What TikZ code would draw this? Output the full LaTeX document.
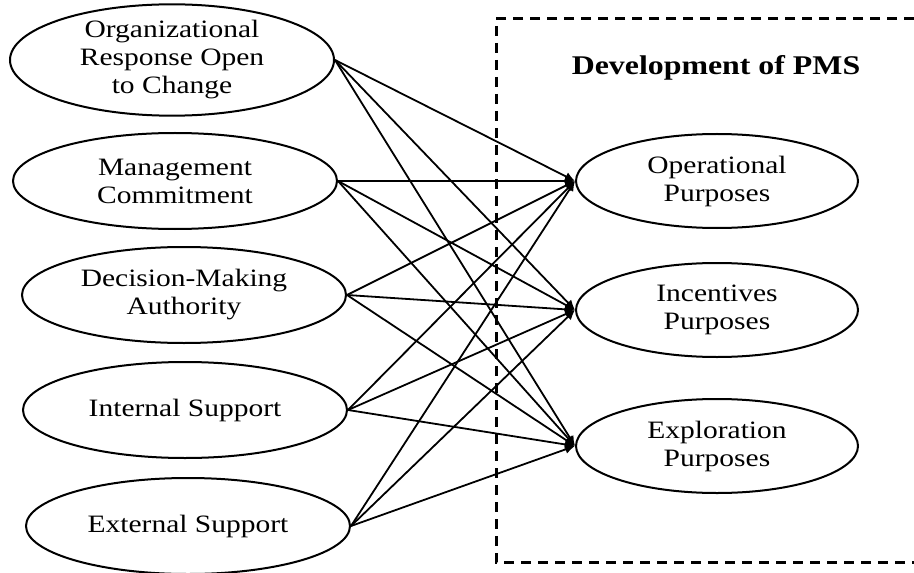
\documentclass[tikz,border=0pt]{standalone}
\usepackage{fontspec}
\setmainfont{Liberation Serif}[FakeStretch=1.18]
\usetikzlibrary{shapes.geometric,arrows.meta}
\tikzset{
  factor/.style={draw,ellipse,line width=1pt,inner sep=0pt,minimum width=162pt,minimum height=48pt,align=center,font=\fontsize{12.5}{14}\selectfont},
  purpose/.style={draw,ellipse,line width=1pt,inner sep=0pt,minimum width=141pt,minimum height=47pt,align=center,font=\fontsize{12.5}{14}\selectfont},
  link/.style={line width=0.9pt,-{Latex[length=5pt,width=4.5pt]}}
}
\begin{document}
\begin{tikzpicture}[x=0.5pt,y=-0.5pt]
\useasboundingbox (0,0) rectangle (914,572);
\node[factor,minimum height=50pt] (orc) at (172,60) {Organizational\\Response Open\\to Change};
\node[factor] (mc) at (175,181) {Management\\Commitment};
\node[factor] (dma) at (184,295) {Decision-Making\\Authority};
\node[factor] (is) at (185,410) {Internal Support};
\node[factor] (es) at (188,526) {External Support};
\node[purpose] (op) at (717,181) {Operational\\Purposes};
\node[purpose] (ip) at (717,310) {Incentives\\Purposes};
\node[purpose] (ep) at (717,446) {Exploration\\Purposes};
\node[font=\fontsize{13.5}{16}\selectfont\bfseries] (pms) at (716,68) {Development of PMS};
\draw[line width=1.5pt,dash pattern=on 5pt off 3.5pt] (914,19) -- (496,19) -- (496,562) -- (914,562);
\draw[link] (orc.east) -- (op.west);
\draw[link] (orc.east) -- (ip.west);
\draw[link] (orc.east) -- (ep.west);
\draw[link] (mc.east) -- (op.west);
\draw[link] (mc.east) -- (ip.west);
\draw[link] (mc.east) -- (ep.west);
\draw[link] (dma.east) -- (op.west);
\draw[link] (dma.east) -- (ip.west);
\draw[link] (dma.east) -- (ep.west);
\draw[link] (is.east) -- (op.west);
\draw[link] (is.east) -- (ip.west);
\draw[link] (is.east) -- (ep.west);
\draw[link] (es.east) -- (op.west);
\draw[link] (es.east) -- (ip.west);
\draw[link] (es.east) -- (ep.west);
\end{tikzpicture}
\end{document}
